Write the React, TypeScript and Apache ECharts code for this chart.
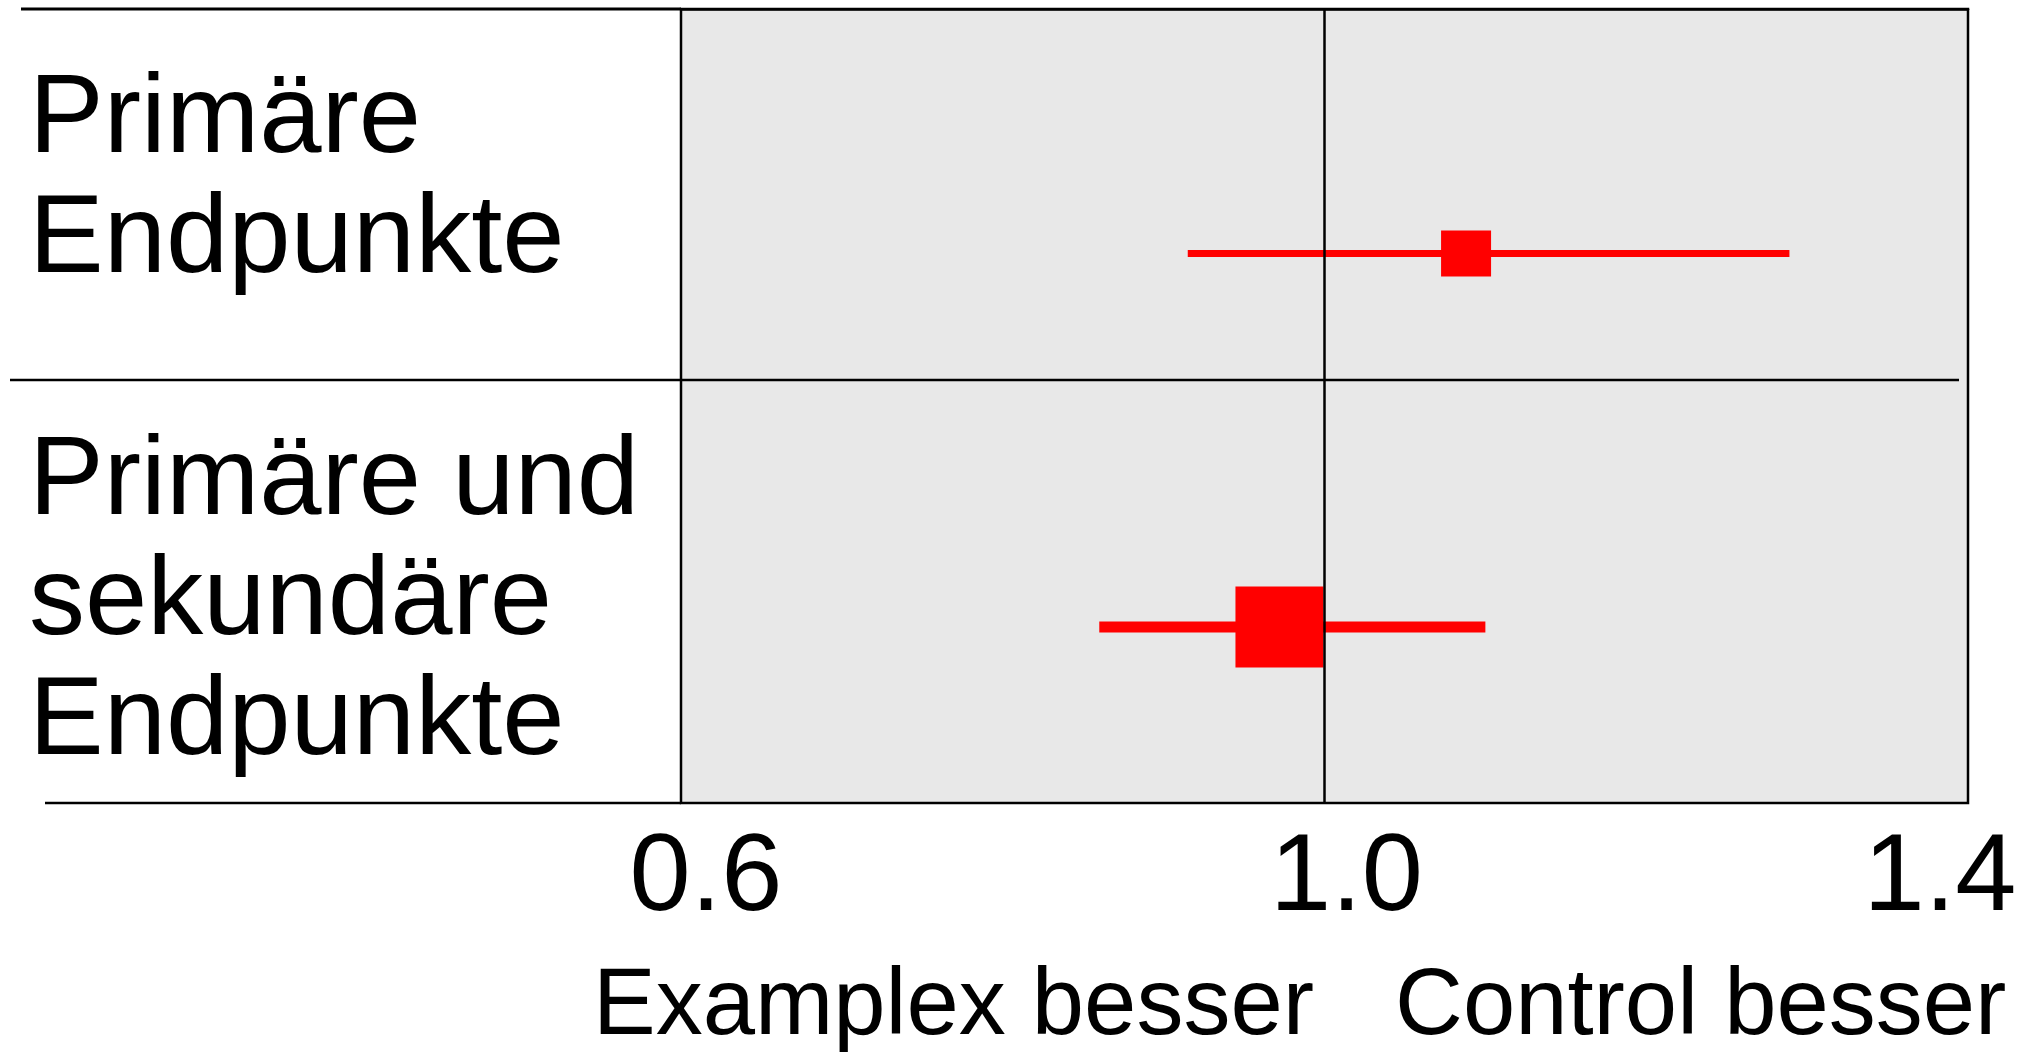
import React, { useEffect, useRef } from 'react';
import * as echarts from 'echarts';

// ---- data ----
const categories = ['Primäre\nEndpunkte', 'Primäre und\nsekundäre\nEndpunkte'];
const estimates = [1.088, 0.972];
const lowerCI = [0.915, 0.86];
const upperCI = [1.289, 1.1];
const tickLabels = ['0.6', '1.0', '1.4'];
const referenceValue = 1.0;
const sideLabels = ['Examplex besser', 'Control besser'];

// ---- layout / style ----
const W = 2033;
const H = 1052;
const FONT = '"Liberation Sans", Arial, Helvetica, sans-serif';
const GRID = { left: 681, top: 9, right: 1968, bottom: 803 };
const rowPos = [30.79, 77.83]; // vertical position in y-axis units (0 top .. 100 bottom)
const boxSize = [
  [50, 46],
  [88, 81],
];
const ciWidth = [7, 11];
const rowLabelTop = [53, 415];
const tickRich: Record<string, number[]> = {
  '0.6': [0, 0, 0, 50],
  '1.0': [0, 0, 0, 44],
  '1.4': [0, 56, 0, 0],
};
const RED = '#ff0000';
const GRAY = '#e8e8e8';

function near(a: number, b: number) {
  return Math.abs(a - b) < 1e-6;
}

export default function App() {
  const ref = useRef<HTMLDivElement>(null);

  useEffect(() => {
    if (!ref.current) return;
    const chart = echarts.init(ref.current, null, { renderer: 'svg', width: W, height: H });

    const rich: Record<string, any> = {};
    tickLabels.forEach((t, i) => {
      rich['t' + i] = {
        fontSize: 110,
        lineHeight: 110,
        fontFamily: FONT,
        color: '#000',
        padding: tickRich[t],
      };
    });

    const data = categories.map((_, i) => [lowerCI[i], upperCI[i], estimates[i], rowPos[i]]);

    const option: any = {
      animation: false,
      backgroundColor: '#ffffff',
      grid: {
        left: GRID.left,
        top: GRID.top,
        right: W - GRID.right,
        bottom: H - GRID.bottom,
        show: true,
        backgroundColor: GRAY,
        borderColor: '#000',
        borderWidth: 2.5,
        containLabel: false,
        outerBoundsMode: 'none',
      },
      xAxis: {
        type: 'value',
        min: 0.6,
        max: 1.4,
        interval: 0.2,
        axisLine: { show: true, lineStyle: { color: '#000', width: 2.5 } },
        axisTick: { show: false },
        splitLine: { show: false },
        axisLabel: {
          margin: 13,
          formatter: (v: number) => {
            for (let i = 0; i < tickLabels.length; i++) {
              if (near(v, parseFloat(tickLabels[i]))) return '{t' + i + '|' + tickLabels[i] + '}';
            }
            return '';
          },
          rich,
        },
      },
      yAxis: {
        type: 'value',
        inverse: true,
        min: 0,
        max: 100,
        show: false,
      },
      series: [
        {
          type: 'custom',
          z: 2,
          data,
          encode: { x: [0, 1, 2], y: 3 },
          renderItem: (params: any, api: any) => {
            const i = params.dataIndex;
            const lo = api.coord([api.value(0), api.value(3)]);
            const hi = api.coord([api.value(1), api.value(3)]);
            const est = api.coord([api.value(2), api.value(3)]);
            const [bw, bh] = boxSize[i];
            return {
              type: 'group',
              children: [
                {
                  type: 'line',
                  shape: { x1: lo[0], y1: lo[1], x2: hi[0], y2: hi[1] },
                  style: { stroke: RED, lineWidth: ciWidth[i] },
                },
                {
                  type: 'rect',
                  shape: { x: est[0] - bw / 2, y: est[1] - bh / 2, width: bw, height: bh },
                  style: { fill: RED },
                },
              ],
            };
          },
        },
        {
          type: 'line',
          data: [],
          z: 10,
          silent: true,
          markLine: {
            silent: true,
            symbol: ['none', 'none'],
            label: { show: false },
            lineStyle: { color: '#000', width: 2.5, type: 'solid' },
            data: [{ xAxis: referenceValue }],
          },
        },
      ],
      graphic: [
        // table divider lines
        { type: 'line', z: 5, shape: { x1: 21, y1: 9, x2: GRID.left, y2: 9 }, style: { stroke: '#000', lineWidth: 3 } },
        { type: 'line', z: 5, shape: { x1: 10, y1: 380, x2: 1959, y2: 380 }, style: { stroke: '#000', lineWidth: 2.5 } },
        { type: 'line', z: 5, shape: { x1: 45, y1: 803, x2: GRID.left, y2: 803 }, style: { stroke: '#000', lineWidth: 2.5 } },
        // row labels
        ...categories.map((c, i) => ({
          type: 'text',
          z: 5,
          x: 29,
          y: rowLabelTop[i],
          style: {
            text: c,
            fontSize: 112,
            lineHeight: 120,
            fontFamily: FONT,
            fill: '#000',
            verticalAlign: 'top',
            align: 'left',
          },
        })),
        // side labels
        {
          type: 'text',
          z: 5,
          x: 593,
          y: 954,
          style: { text: sideLabels[0], fontSize: 94, lineHeight: 94, fontFamily: FONT, fill: '#000', verticalAlign: 'top', align: 'left' },
        },
        {
          type: 'text',
          z: 5,
          x: 1395,
          y: 954,
          style: { text: sideLabels[1], fontSize: 94, lineHeight: 94, fontFamily: FONT, fill: '#000', verticalAlign: 'top', align: 'left' },
        },
      ],
    };

    chart.setOption(option);
    return () => chart.dispose();
  }, []);

  return (
    <div
      ref={ref}
      style={{ position: 'absolute', left: 0, top: 0, width: W, height: H, background: '#fff' }}
    />
  );
}
